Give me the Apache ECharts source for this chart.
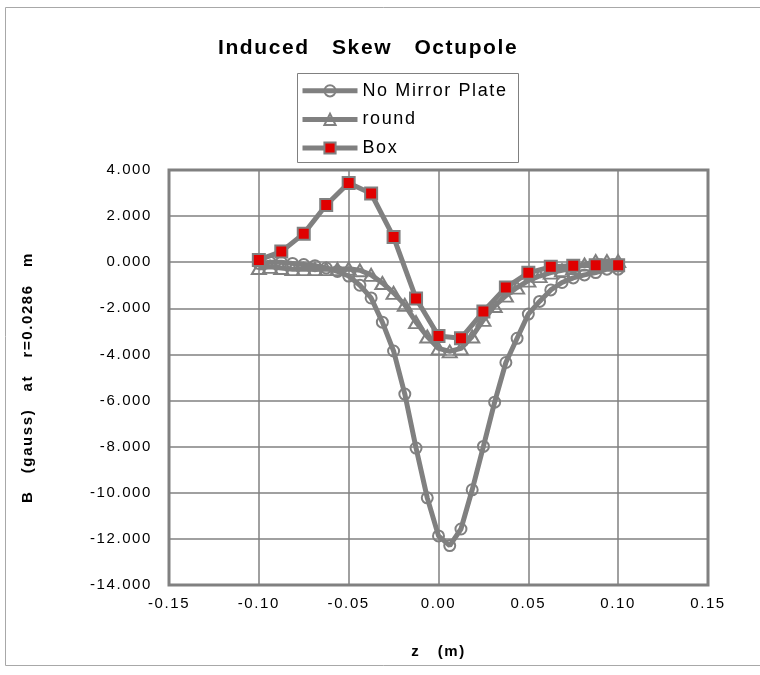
<!DOCTYPE html>
<html><head><meta charset="utf-8">
<script src="https://cdn.jsdelivr.net/npm/echarts@6/dist/echarts.min.js"></script>
<style>html,body{margin:0;padding:0;background:#fff}#c{width:760px;height:675px}</style>
</head><body><div id="c"></div>
<script>
// Reference text is rendered with a little tracking; apply it to the 2d contexts ECharts uses.
(function(){
  const orig = HTMLCanvasElement.prototype.getContext;
  HTMLCanvasElement.prototype.getContext = function(type, opts){
    const ctx = orig.call(this, type, opts);
    if (type === '2d' && ctx && 'letterSpacing' in ctx) ctx.letterSpacing = '1.6px';
    return ctx;
  };
})();

const titleText = 'Induced   Skew   Octupole';
const seriesNames = ['No Mirror Plate', 'round', 'Box'];
const xAxisName = 'z   (m)';
const yAxisName = 'B   (gauss)   at   r=0.0286   m';

// z positions (m)
const zFine = [-0.1,-0.09375,-0.0875,-0.08125,-0.075,-0.06875,-0.0625,-0.05625,-0.05,-0.04375,-0.0375,-0.03125,-0.025,-0.01875,-0.0125,-0.00625,0,0.00625,0.0125,0.01875,0.025,0.03125,0.0375,0.04375,0.05,0.05625,0.0625,0.06875,0.075,0.08125,0.0875,0.09375,0.1];
const zBox = [-0.1,-0.0875,-0.075,-0.0625,-0.05,-0.0375,-0.025,-0.0125,0,0.0125,0.025,0.0375,0.05,0.0625,0.075,0.0875,0.1];

const noMirror = [-0.05,0.0,0.0,-0.05,-0.1,-0.15,-0.25,-0.4,-0.6,-1.0,-1.55,-2.6,-3.85,-5.72,-8.06,-10.22,-11.87,-12.29,-11.57,-9.87,-7.99,-6.07,-4.35,-3.3,-2.25,-1.7,-1.2,-0.88,-0.68,-0.55,-0.45,-0.3,-0.3];
const roundVals = [-0.25,-0.2,-0.25,-0.3,-0.3,-0.3,-0.3,-0.3,-0.28,-0.35,-0.55,-0.9,-1.33,-1.85,-2.6,-3.22,-3.74,-3.87,-3.74,-3.22,-2.5,-1.9,-1.45,-1.1,-0.8,-0.6,-0.45,-0.35,-0.25,-0.1,0.05,0.05,0.05];
const boxVals = [0.1,0.46,1.24,2.48,3.44,2.98,1.09,-1.57,-3.2,-3.3,-2.14,-1.1,-0.46,-0.2,-0.15,-0.13,-0.13];

const xTicks = {min:-0.15, max:0.15, interval:0.05};
const yTicks = {min:-14, max:4, interval:2};

const pair = (xs, ys) => xs.map((x,i)=>[x, ys[i]]);
const GRAY = '#808080';
const FONT = '"Liberation Sans", Arial, sans-serif';

const chart = echarts.init(document.getElementById('c'), null, {renderer:'canvas'});
chart.setOption({
  backgroundColor:'#fff',
  animation:false,
  title:{text:titleText, left:213, top:32, textStyle:{fontFamily:FONT, fontSize:21, fontWeight:'bold', color:'#000'}},
  legend:{
    orient:'vertical', left:300, top:81,
    padding:0, itemWidth:55, itemHeight:14, itemGap:9,
    textStyle:{fontFamily:FONT, fontSize:18, color:'#000'},
    lineStyle:{width:5},
    data:seriesNames
  },
  graphic:[
    {type:'rect', shape:{x:5.5, y:7.5, width:800, height:658}, style:{fill:'none', stroke:'#a8a8a8', lineWidth:1}, silent:true, z:-10},
    {type:'rect', shape:{x:297.5, y:73.5, width:221, height:89}, style:{fill:'#fff', stroke:GRAY, lineWidth:1}, silent:true, z:-1}
  ],
  grid:{left:169, top:170, width:539, height:415, show:true, borderColor:GRAY, borderWidth:3, backgroundColor:'#fff'},
  xAxis:{type:'value', min:xTicks.min, max:xTicks.max, interval:xTicks.interval,
    name:xAxisName, nameLocation:'middle', nameGap:59,
    nameTextStyle:{fontFamily:FONT, fontSize:15, fontWeight:'bold', color:'#000'},
    axisLine:{show:false}, axisTick:{show:false},
    splitLine:{show:true, lineStyle:{color:GRAY, width:1.5}},
    axisLabel:{fontFamily:FONT, fontSize:15, color:'#000', margin:11, formatter:v=>v.toFixed(2)}},
  yAxis:{type:'value', min:yTicks.min, max:yTicks.max, interval:yTicks.interval,
    name:yAxisName, nameLocation:'middle', nameGap:133,
    nameTextStyle:{fontFamily:FONT, fontSize:15, fontWeight:'bold', color:'#000'},
    axisLine:{show:false}, axisTick:{show:false},
    splitLine:{show:true, lineStyle:{color:GRAY, width:1.5}},
    axisLabel:{fontFamily:FONT, fontSize:15, color:'#000', margin:17, formatter:v=>v.toFixed(3)}},
  series:[
    {name:seriesNames[0], type:'line', data:pair(zFine,noMirror), symbol:'circle', symbolSize:11,
     lineStyle:{color:GRAY, width:5}, itemStyle:{color:'rgba(255,255,255,0)', borderColor:GRAY, borderWidth:2}, z:2},
    {name:seriesNames[1], type:'line', data:pair(zFine,roundVals), symbol:'triangle', symbolSize:[14,12],
     lineStyle:{color:GRAY, width:5}, itemStyle:{color:'rgba(255,255,255,0)', borderColor:GRAY, borderWidth:2}, z:3},
    {name:seriesNames[2], type:'line', data:pair(zBox,boxVals), symbol:'rect', symbolSize:12,
     lineStyle:{color:GRAY, width:5}, itemStyle:{color:'#e00000', borderColor:GRAY, borderWidth:2}, z:4}
  ]
});
</script></body></html>
